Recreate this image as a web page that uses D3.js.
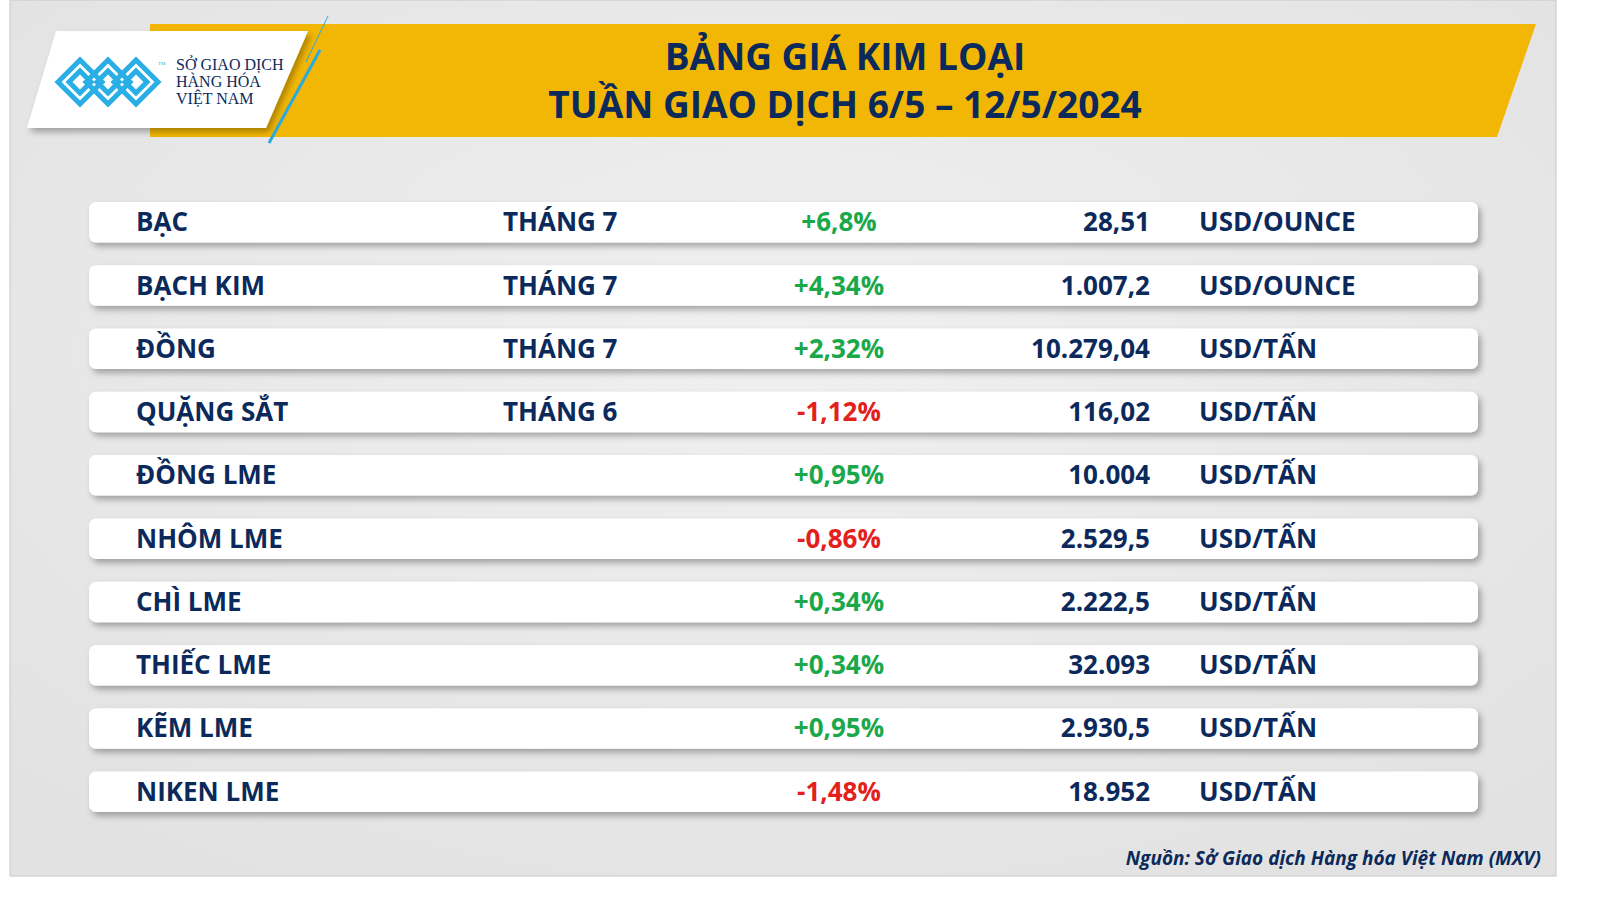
<!DOCTYPE html>
<html><head><meta charset="utf-8">
<script src="https://cdn.jsdelivr.net/npm/d3@7"></script>
<style>html,body{margin:0;padding:0;overflow:hidden;background:#fff}svg{display:block}</style>
</head><body><svg id="c" width="1600" height="900"></svg>
<script>
const names=["BẠC","BẠCH KIM","ĐỒNG","QUẶNG SẮT","ĐỒNG LME","NHÔM LME","CHÌ LME","THIẾC LME","KẼM LME","NIKEN LME"];
const months=["THÁNG 7","THÁNG 7","THÁNG 7","THÁNG 6","","","","","",""];
const changes=[6.8,4.34,2.32,-1.12,0.95,-0.86,0.34,0.34,0.95,-1.48];
const changeLabels=["+6,8%","+4,34%","+2,32%","-1,12%","+0,95%","-0,86%","+0,34%","+0,34%","+0,95%","-1,48%"];
const prices=["28,51","1.007,2","10.279,04","116,02","10.004","2.529,5","2.222,5","32.093","2.930,5","18.952"];
const units=["USD/OUNCE","USD/OUNCE","USD/TẤN","USD/TẤN","USD/TẤN","USD/TẤN","USD/TẤN","USD/TẤN","USD/TẤN","USD/TẤN"];
const titleLines=["BẢNG GIÁ KIM LOẠI","TUẦN GIAO DỊCH 6/5 – 12/5/2024"];
const source="Nguồn: Sở Giao dịch Hàng hóa Việt Nam (MXV)";

const svg=d3.select("#c");
const navy="#0b2a5b", font="'Open Sans', 'DejaVu Sans', sans-serif";
const defs=svg.append("defs");
const f=defs.append("filter").attr("id","sh").attr("x","-5%").attr("y","-30%").attr("width","110%").attr("height","180%");
f.append("feDropShadow").attr("dx",3).attr("dy",4).attr("stdDeviation",3).attr("flood-color","#000").attr("flood-opacity",0.3);
const g=defs.append("radialGradient").attr("id","bg").attr("cx","50%").attr("cy","40%").attr("r","70%");
g.append("stop").attr("offset","0").attr("stop-color","#f0f0f0");
g.append("stop").attr("offset","1").attr("stop-color","#e2e2e2");

svg.append("rect").attr("x",10).attr("y",0).attr("width",1546).attr("height",876).attr("fill","url(#bg)").attr("stroke","#c8c8c8");

svg.append("path").attr("d","M150,24 L1536,24 L1497,137 L150,137 Z").attr("fill","#f2b705");
svg.append("path").attr("d","M56,31 L308,31 L266,128 L27,128 Z").attr("fill","#fff").attr("filter","url(#sh)");
svg.append("line").attr("x1",328).attr("y1",16).attr("x2",306).attr("y2",62).attr("stroke","#29a9e0").attr("stroke-width",1);
svg.append("line").attr("x1",320).attr("y1",50).attr("x2",269).attr("y2",143).attr("stroke","#29a9e0").attr("stroke-width",3);
const lg=svg.append("g").attr("fill","none").attr("stroke","#29aee6").attr("stroke-width",5);
[80,108,136].forEach(cx=>{
  lg.append("path").attr("d",`M${cx-22},82 L${cx},60 L${cx+22},82 L${cx},104 Z`);
  lg.append("path").attr("d",`M${cx-11},82 L${cx},71 L${cx+11},82 L${cx},93 Z`);
});
svg.append("text").attr("x",158).attr("y",65).attr("font-size",5).attr("fill","#29aee6").text("TM");
["SỞ GIAO DỊCH","HÀNG HÓA","VIỆT NAM"].forEach((t,i)=>svg.append("text").attr("x",176).attr("y",70+i*17).attr("font-family","'Liberation Serif', serif").attr("font-size",16).attr("fill",navy).text(t));

titleLines.forEach((t,i)=>svg.append("text").attr("x",845).attr("y",70+i*48).attr("text-anchor","middle").attr("font-family",font).attr("font-weight",700).attr("font-size",37).attr("fill",navy).text(t));

const y=d3.scaleBand().domain(d3.range(names.length)).range([202,812]).paddingInner(0.36).paddingOuter(0);
const rows=svg.selectAll("g.r").data(names).join("g").attr("class","r").attr("transform",(d,i)=>`translate(0,${y(i)})`);
rows.append("rect").attr("x",89).attr("width",1389).attr("height",y.bandwidth()).attr("rx",7).attr("fill","#fff").attr("filter","url(#sh)");
const ty=y.bandwidth()/2+9;
const txt=(sel)=>sel.append("text").attr("y",ty).attr("font-family",font).attr("font-weight",700).attr("font-size",26).attr("fill",navy);
txt(rows).attr("x",136).text(d=>d);
txt(rows).attr("x",503).text((d,i)=>months[i]);
txt(rows).attr("x",839).attr("text-anchor","middle").attr("fill",(d,i)=>changes[i]>=0?"#1aa84b":"#e3201b").text((d,i)=>changeLabels[i]);
txt(rows).attr("x",1150).attr("text-anchor","end").text((d,i)=>prices[i]);
txt(rows).attr("x",1199).text((d,i)=>units[i]);

svg.append("text").attr("x",1541).attr("y",865).attr("text-anchor","end").attr("font-family",font).attr("font-weight",700).attr("font-style","italic").attr("font-size",19).attr("fill",navy).text(source);
</script></body></html>
